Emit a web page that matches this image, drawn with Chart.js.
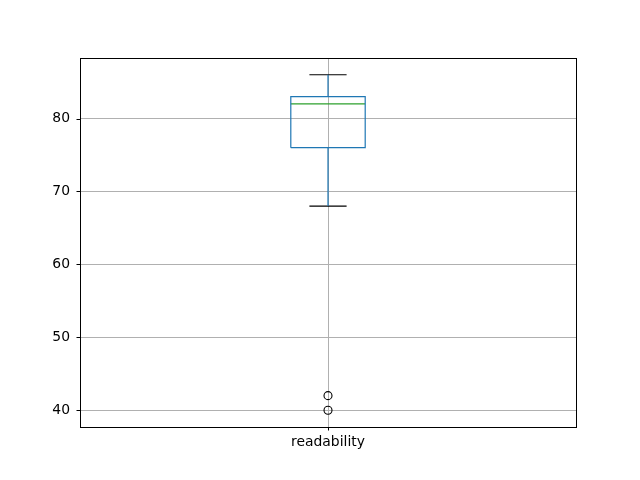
<!DOCTYPE html>
<html>
<head>
<meta charset="utf-8">
<script src="https://cdn.jsdelivr.net/npm/chart.js@4/dist/chart.umd.min.js"></script>
<style>
  html, body { margin: 0; padding: 0; background: #fff; }
  #wrap { width: 640px; height: 480px; }
</style>
</head>
<body>
<div id="wrap"><canvas id="chart" width="640" height="480"></canvas></div>
<script>
// box statistics per category
const categories = ['readability'];
const whiskerLow = [68];
const q1 = [76];
const median = [82];
const q3 = [83];
const whiskerHigh = [86];
const outliers = [[42, 40]];
const yTicks = [40, 50, 60, 70, 80];

const BOX_HALF = 0.075;
const CAP_HALF = 0.0375;
const BLUE = '#1f77b4';

function seg(points, color) {
  return {
    data: points.map(([x, y]) => ({ x, y })),
    showLine: true,
    borderColor: color,
    borderWidth: 1.2,
    pointRadius: 0,
    fill: false,
    tension: 0
  };
}

const datasets = [];
categories.forEach((name, i) => {
  const c = i + 1;
  datasets.push(seg([[c, q1[i]], [c, whiskerLow[i]]], BLUE));
  datasets.push(seg([[c, q3[i]], [c, whiskerHigh[i]]], BLUE));
  datasets.push(seg([
    [c - BOX_HALF, q1[i]], [c + BOX_HALF, q1[i]], [c + BOX_HALF, q3[i]],
    [c - BOX_HALF, q3[i]], [c - BOX_HALF, q1[i]]
  ], BLUE));
  datasets.push(seg([[c - BOX_HALF, median[i]], [c + BOX_HALF, median[i]]], '#2ca02c'));
  datasets.push(seg([[c - CAP_HALF, whiskerLow[i]], [c + CAP_HALF, whiskerLow[i]]], '#000'));
  datasets.push(seg([[c - CAP_HALF, whiskerHigh[i]], [c + CAP_HALF, whiskerHigh[i]]], '#000'));
  datasets.push({
    data: outliers[i].map(v => ({ x: c, y: v })),
    showLine: false,
    pointStyle: 'circle',
    pointRadius: 4,
    pointBorderColor: '#000',
    pointBackgroundColor: 'rgba(0,0,0,0)',
    pointBorderWidth: 1.1
  });
});

const allVals = [].concat(whiskerLow, whiskerHigh, ...outliers);
const lo = Math.min(...allVals), hi = Math.max(...allVals);
const pad = (hi - lo) * 0.05;

const frame = {
  id: 'frame',
  afterDraw(chart) {
    const { ctx, chartArea: a, scales } = chart;
    ctx.save();
    ctx.strokeStyle = '#000';
    ctx.lineWidth = 1;
    ctx.strokeRect(Math.round(a.left) + 0.5, Math.round(a.top) + 0.5,
      Math.round(a.right - a.left), Math.round(a.bottom - a.top));
    ctx.beginPath();
    yTicks.forEach(v => {
      const y = Math.round(scales.y.getPixelForValue(v)) + 0.5;
      ctx.moveTo(a.left - 3.5, y);
      ctx.lineTo(a.left, y);
    });
    categories.forEach((n, i) => {
      const x = Math.round(scales.x.getPixelForValue(i + 1)) + 0.5;
      ctx.moveTo(x, a.bottom);
      ctx.lineTo(x, a.bottom + 3.5);
    });
    ctx.stroke();
    ctx.restore();
  }
};

new Chart(document.getElementById('chart'), {
  type: 'scatter',
  data: { datasets },
  plugins: [frame],
  options: {
    responsive: false,
    animation: false,
    layout: { padding: { top: 58, right: 64, left: 0, bottom: 0 } },
    plugins: { legend: { display: false }, tooltip: { enabled: false } },
    scales: {
      x: {
        type: 'linear',
        min: 0.5,
        max: 1.5,
        afterBuildTicks(scale) { scale.ticks = categories.map((n, i) => ({ value: i + 1 })); },
        afterFit(scale) { scale.height = 53; },
        ticks: {
          padding: 7,
          color: '#000',
          font: { family: 'DejaVu Sans', size: 13.9 },
          callback: (v) => categories[Math.round(v) - 1] || ''
        },
        grid: { color: '#b0b0b0', lineWidth: 1, drawTicks: false },
        border: { display: false }
      },
      y: {
        min: lo - pad,
        max: hi + pad,
        afterBuildTicks(scale) { scale.ticks = yTicks.map(v => ({ value: v })); },
        afterFit(scale) { scale.width = 80; },
        ticks: {
          padding: 10,
          color: '#000',
          font: { family: 'DejaVu Sans', size: 13.9 }
        },
        grid: { color: '#b0b0b0', lineWidth: 1, drawTicks: false },
        border: { display: false }
      }
    }
  }
});
</script>
</body>
</html>
